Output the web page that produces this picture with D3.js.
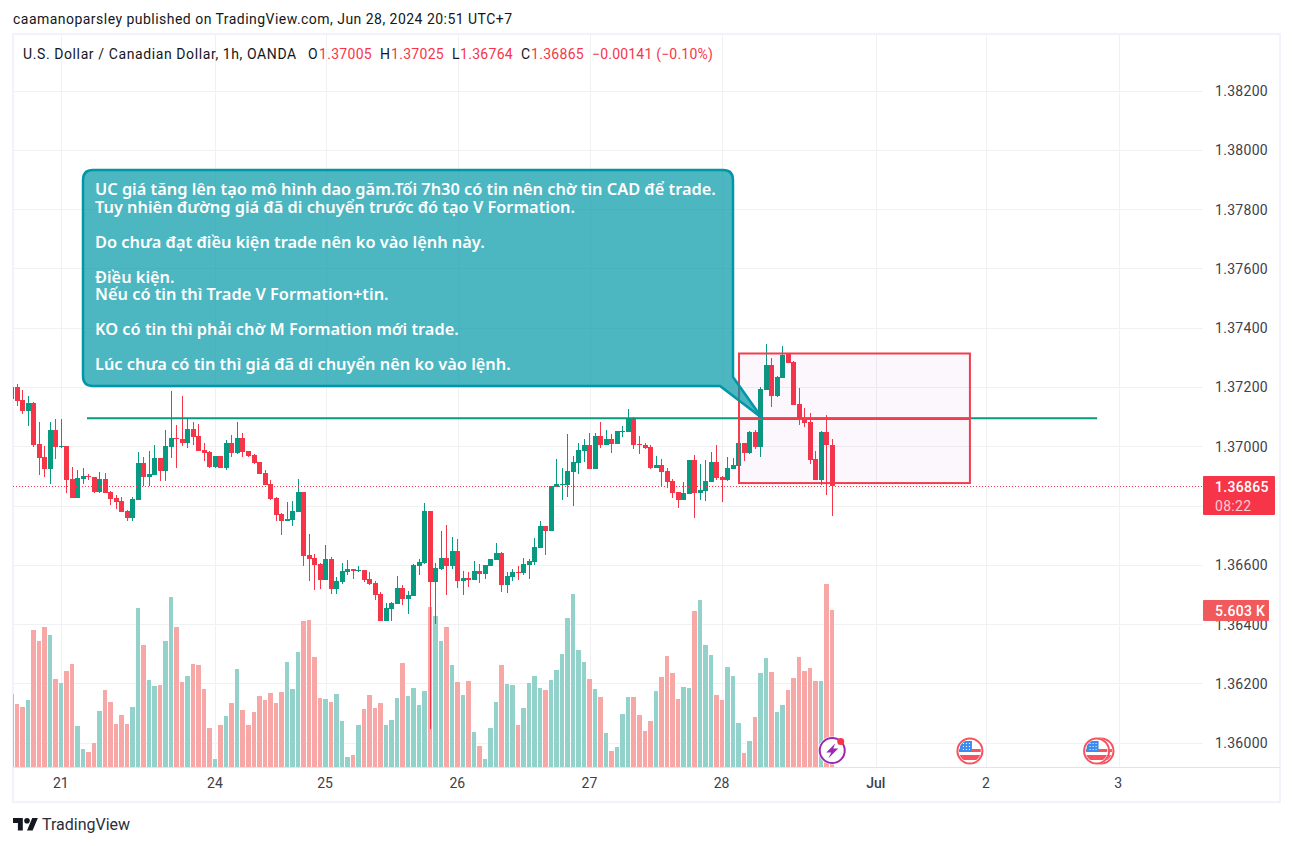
<!DOCTYPE html>
<html>
<head>
<meta charset="utf-8">
<script src="https://d3js.org/d3.v7.min.js"></script>
<style>
  body { margin: 0; background: #fff; }
  text { font-family: Roboto, sans-serif; }
  .tick text { font-family: Roboto, sans-serif; }
</style>
</head>
<body>
<div id="chart"></div>
<script>
// values, one entry per 1h bar (first one is cut by the left edge)
var opens = [
  1.37160,
  1.37200,1.37156,1.37119,1.37146,1.37008,1.36964,1.36923,1.37055,1.36997,1.37001,
  1.36890,1.36826,1.36890,1.36901,1.36897,1.36846,1.36890,1.36846,1.36826,1.36815,
  1.36782,1.36758,1.36819,1.36944,1.36897,1.36903,1.36961,1.36917,1.36998,1.37028,
  1.37025,1.37011,1.37059,1.37035,1.36988,1.36981,1.36930,1.36967,1.36927,1.37011,
  1.36978,1.37028,1.36984,1.36971,1.36947,1.36910,1.36873,1.36826,1.36772,1.36748,
  1.36750,1.36778,1.36845,1.36632,1.36622,1.36602,1.36548,1.36619,1.36518,1.36541,
  1.36575,1.36585,1.36578,1.36582,1.36551,1.36538,1.36501,1.36410,1.36450,1.36467,
  1.36521,1.36484,1.36494,1.36595,1.36605,1.36781,1.36541,1.36585,1.36622,1.36595,
  1.36646,1.36545,1.36555,1.36548,1.36578,1.36568,1.36595,1.36616,1.36639,1.36531,
  1.36558,1.36575,1.36572,1.36599,1.36609,1.36656,1.36730,1.36713,1.36863,1.36870,
  1.36870,1.36913,1.36944,1.36984,1.37004,1.36924,1.37035,1.37004,1.37025,1.37008,
  1.37048,1.37048,1.37092,1.37008,1.37004,1.36998,1.36927,1.36937,1.36917,1.36883,
  1.36846,1.36819,1.36839,1.36954,1.36843,1.36849,1.36880,1.36947,1.36897,1.36886,
  1.36923,1.36934,1.37011,1.36978,1.37048,1.36998,1.37190,1.37274,1.37170,1.37231,
  1.37312,1.37285,1.37143,1.37096,1.37082,1.36957,1.36886,1.37048,1.37005
];
var highs = [
  1.37205,
  1.37209,1.37190,1.37170,1.37150,1.37082,1.37001,1.37082,1.37091,1.37092,1.37001,
  1.36930,1.36920,1.36927,1.36907,1.36897,1.36913,1.36910,1.36849,1.36836,1.36829,
  1.36785,1.36829,1.36981,1.36964,1.36984,1.37005,1.36961,1.37055,1.37187,1.37072,
  1.37170,1.37092,1.37082,1.37075,1.37011,1.36984,1.36967,1.36967,1.37021,1.37038,
  1.37082,1.37045,1.36984,1.36974,1.36947,1.36920,1.36886,1.36829,1.36775,1.36812,
  1.36815,1.36889,1.36845,1.36703,1.36636,1.36605,1.36666,1.36626,1.36558,1.36605,
  1.36616,1.36585,1.36595,1.36582,1.36575,1.36545,1.36508,1.36470,1.36474,1.36562,
  1.36531,1.36511,1.36602,1.36619,1.36808,1.36781,1.36605,1.36713,1.36734,1.36693,
  1.36686,1.36578,1.36575,1.36612,1.36602,1.36599,1.36619,1.36673,1.36642,1.36575,
  1.36585,1.36595,1.36622,1.36619,1.36690,1.36747,1.36730,1.36865,1.36957,1.36927,
  1.37042,1.36967,1.37010,1.37025,1.37045,1.37045,1.37082,1.37055,1.37042,1.37052,
  1.37069,1.37126,1.37099,1.37035,1.37011,1.37004,1.36967,1.36957,1.36927,1.36890,
  1.36846,1.36880,1.36954,1.36971,1.36940,1.36954,1.36981,1.37004,1.36900,1.36964,
  1.36961,1.37011,1.37011,1.37050,1.37055,1.37200,1.37345,1.37298,1.37237,1.37339,
  1.37312,1.37288,1.37197,1.37129,1.37112,1.36984,1.37052,1.37106,1.37025
];
var lows = [
  1.37150,
  1.37136,1.37109,1.37069,1.36998,1.36903,1.36897,1.36873,1.36957,1.36994,1.36842,
  1.36826,1.36826,1.36873,1.36886,1.36842,1.36842,1.36842,1.36802,1.36788,1.36778,
  1.36748,1.36748,1.36819,1.36866,1.36866,1.36903,1.36883,1.36883,1.36961,1.36927,
  1.37001,1.36994,1.37005,1.36984,1.36950,1.36927,1.36927,1.36927,1.36920,1.36964,
  1.36974,1.36964,1.36965,1.36940,1.36907,1.36869,1.36819,1.36748,1.36701,1.36748,
  1.36730,1.36778,1.36595,1.36545,1.36514,1.36518,1.36548,1.36501,1.36501,1.36535,
  1.36565,1.36551,1.36575,1.36541,1.36531,1.36480,1.36410,1.36410,1.36410,1.36467,
  1.36464,1.36433,1.36494,1.36565,1.36602,1.36046,1.36400,1.36582,1.36497,1.36585,
  1.36521,1.36497,1.36524,1.36548,1.36538,1.36551,1.36595,1.36616,1.36508,1.36504,
  1.36545,1.36548,1.36565,1.36551,1.36599,1.36656,1.36632,1.36713,1.36863,1.36819,
  1.36828,1.36799,1.36907,1.36947,1.36924,1.36924,1.36994,1.37004,1.36978,1.37008,
  1.37032,1.37048,1.36991,1.36974,1.36990,1.36923,1.36927,1.36866,1.36859,1.36826,
  1.36792,1.36819,1.36839,1.36758,1.36819,1.36815,1.36880,1.36886,1.36812,1.36883,
  1.36923,1.36934,1.36950,1.36974,1.36991,1.36964,1.37190,1.37133,1.37167,1.37231,
  1.37281,1.37140,1.37072,1.37065,1.36940,1.36886,1.36870,1.36836,1.36764
];
var closes = [
  1.37200,
  1.37153,1.37119,1.37146,1.37005,1.36961,1.36923,1.37055,1.36998,1.37001,1.36886,
  1.36826,1.36893,1.36900,1.36898,1.36846,1.36890,1.36842,1.36822,1.36812,1.36778,
  1.36758,1.36822,1.36944,1.36897,1.36907,1.36961,1.36917,1.37001,1.37028,1.37025,
  1.37011,1.37059,1.37032,1.36984,1.36978,1.36930,1.36967,1.36927,1.37011,1.36978,
  1.37028,1.36981,1.36967,1.36944,1.36907,1.36869,1.36822,1.36768,1.36748,1.36755,
  1.36781,1.36845,1.36629,1.36619,1.36599,1.36548,1.36619,1.36518,1.36545,1.36578,
  1.36585,1.36578,1.36582,1.36548,1.36535,1.36497,1.36410,1.36454,1.36470,1.36521,
  1.36484,1.36497,1.36599,1.36609,1.36781,1.36541,1.36589,1.36622,1.36595,1.36646,
  1.36545,1.36555,1.36548,1.36578,1.36568,1.36599,1.36619,1.36639,1.36531,1.36562,
  1.36575,1.36572,1.36602,1.36612,1.36659,1.36730,1.36713,1.36865,1.36873,1.36873,
  1.36917,1.36947,1.36988,1.37004,1.36924,1.37035,1.37004,1.37025,1.37008,1.37052,
  1.37052,1.37096,1.37004,1.37004,1.36994,1.36927,1.36937,1.36913,1.36880,1.36843,
  1.36819,1.36843,1.36954,1.36843,1.36853,1.36883,1.36947,1.36893,1.36886,1.36927,
  1.36937,1.37011,1.36978,1.37048,1.36998,1.37194,1.37274,1.37170,1.37234,1.37308,
  1.37281,1.37140,1.37096,1.37079,1.36954,1.36886,1.37048,1.37005,1.36865
];
var volumes = [
  2606,
  2249,2142,2392,4891,4498,4998,4712,3142,2999,3427,
  3677,1464,643,536,857,1999,2749,2321,1535,1856,
  1535,2142,5676,4355,3106,2892,2927,4498,6069,4998,
  3035,3249,3677,3641,2785,1392,286,1499,1821,2285,
  3499,2035,1499,1964,2535,2392,2642,2285,2678,3749,
  2785,4106,5212,5248,3927,2463,2428,2321,2606,1642,
  357,428,1499,2071,2570,2106,2285,1499,1678,2463,
  3713,2535,2820,2213,2713,5712,5391,4498,4998,3641,
  3035,2570,3070,1250,750,286,1392,2321,3641,2963,
  2927,1499,2106,2999,3249,2820,2749,3106,3463,4034,
  5319,6176,4177,3749,3142,2785,2499,1214,571,714,
  1892,2499,2499,1856,1285,1642,2713,3213,3963,3356,
  2428,2856,2820,5569,5962,4355,3998,2570,2392,3570,
  3249,1571,500,928,1785,3356,3891,3392,1964,2213,
  2749,3177,3927,3427,3534,3070,3070,6533,5603
];

var priceTicks = [1.36,1.362,1.364,1.366,1.368,1.37,1.372,1.374,1.376,1.378,1.38,1.382];
var dayTickBars = [9,37,57,81,105,129,157,177,201];
var dayTickLabels = ["21","24","25","26","27","28","Jul","2","3"];

var legendName = "U.S. Dollar / Canadian Dollar, 1h, OANDA";
var legendParts = [
  ["O", "1.37005", 308, 319],
  ["H", "1.37025", 380, 391],
  ["L", "1.36764", 452, 460],
  ["C", "1.36865", 521, 531]
];
var legendChange = "\u22120.00141 (\u22120.10%)";

var calloutLines = [
  "UC giá tăng lên tạo mô hình dao găm.Tối 7h30 có tin nên chờ tin CAD để trade.",
  "Tuy nhiên đường giá đã di chuyển trước đó tạo V Formation.",
  "",
  "Do chưa đạt điều kiện trade nên ko vào lệnh này.",
  "",
  "Điều kiện.",
  "Nếu có tin thì Trade V Formation+tin.",
  "",
  "KO có tin thì phải chờ M Formation mới trade.",
  "",
  "Lúc chưa có tin thì giá đã di chuyển nên ko vào lệnh."
];
var calloutLineY = [189,207,0,242,0,277,294,0,329,0,364];

// drawn shapes: bar index / price anchors
var boxBars = [132.07, 174];
var boxPrices = [1.37313, 1.36876, 1.37093];
var levelBars = [13.67, 197.1];
var levelPrice = 1.37095;
var flagBars = [174, 197, 197.8];
var boltBar = 149;

var upColor = "#089981", downColor = "#f73549";
var upVol = "#92d2cb", downVol = "#f7a8a6";
var gridColor = "#f1f1f4";

var width = 1293, height = 846;
var pane = {left: 13, right: 1203, top: 35, bottom: 767};

var svg = d3.select("#chart").append("svg")
  .attr("width", width)
  .attr("height", height)
  .style("display", "block");

svg.append("defs").append("clipPath").attr("id", "pane-clip")
  .append("rect")
  .attr("x", pane.left).attr("y", pane.top)
  .attr("width", pane.right - pane.left).attr("height", pane.bottom - pane.top);

var x = d3.scaleLinear().domain([0, 210]).range([11.7, 11.7 + 210 * 5.507]);
var y = d3.scaleLinear().domain([1.36, 1.382]).range([742.8, 90.5]);
var v = d3.scaleLinear().domain([0, 5603]).range([767, 610]);

var bars = opens.map(function(o, i) {
  return {i: i, o: o, h: highs[i], l: lows[i], c: closes[i], vol: volumes[i]};
});

function bodyLeft(i) { return Math.round(x(i) - 2.5); }

// header line
svg.append("text")
  .attr("x", 13).attr("y", 24)
  .style("font-size", "14px").style("letter-spacing", "0.47px").style("fill", "#131722")
  .text("caamanoparsley published on TradingView.com, Jun 28, 2024 20:51 UTC+7");

// frame
svg.append("rect")
  .attr("x", 13).attr("y", 34)
  .attr("width", 1267).attr("height", 768)
  .attr("fill", "none").attr("stroke", "#f0f3fa").attr("stroke-width", 2);

// grid
var grid = svg.append("g");
grid.selectAll("line.h").data(priceTicks).enter().append("line")
  .attr("class", "h")
  .attr("x1", pane.left).attr("x2", pane.right)
  .attr("y1", function(d) { return Math.round(y(d)) + 0.5; })
  .attr("y2", function(d) { return Math.round(y(d)) + 0.5; })
  .attr("stroke", gridColor);
grid.selectAll("line.v").data(dayTickBars).enter().append("line")
  .attr("class", "v")
  .attr("x1", function(d) { return Math.round(x(d)) + 0.5; })
  .attr("x2", function(d) { return Math.round(x(d)) + 0.5; })
  .attr("y1", pane.top).attr("y2", pane.bottom)
  .attr("stroke", gridColor);

var plot = svg.append("g").attr("clip-path", "url(#pane-clip)");

// volume
plot.selectAll("rect.vol").data(bars).enter().append("rect")
  .attr("class", "vol")
  .attr("x", function(d) { return bodyLeft(d.i); })
  .attr("width", function(d) { return bodyLeft(d.i + 1) - bodyLeft(d.i) - 1; })
  .attr("y", function(d) { return Math.round(v(d.vol)); })
  .attr("height", function(d) { return 767 - Math.round(v(d.vol)); })
  .attr("fill", function(d) { return d.c >= d.o ? upVol : downVol; });

// wicks and bodies
plot.selectAll("rect.wick").data(bars).enter().append("rect")
  .attr("class", "wick")
  .attr("x", function(d) { return bodyLeft(d.i) + 2; })
  .attr("width", 1)
  .attr("y", function(d) { return Math.round(y(d.h)); })
  .attr("height", function(d) { return Math.max(1, Math.round(y(d.l)) - Math.round(y(d.h))); })
  .attr("fill", function(d) { return d.c >= d.o ? upColor : downColor; });

plot.selectAll("rect.body").data(bars).enter().append("rect")
  .attr("class", "body")
  .attr("x", function(d) { return bodyLeft(d.i); })
  .attr("width", 5)
  .attr("y", function(d) { return Math.round(y(Math.max(d.o, d.c))); })
  .attr("height", function(d) { return Math.max(1, Math.round(y(Math.min(d.o, d.c))) - Math.round(y(Math.max(d.o, d.c)))); })
  .attr("fill", function(d) { return d.c >= d.o ? upColor : downColor; });

// last price dotted line
var lastClose = closes[closes.length - 1];
plot.append("line")
  .attr("x1", pane.left).attr("x2", pane.right)
  .attr("y1", Math.round(y(lastClose)) + 0.5).attr("y2", Math.round(y(lastClose)) + 0.5)
  .attr("stroke", downColor)
  .attr("stroke-dasharray", "1 2");

// level line
plot.append("line")
  .attr("x1", x(levelBars[0])).attr("x2", x(levelBars[1]))
  .attr("y1", y(levelPrice)).attr("y2", y(levelPrice))
  .attr("stroke", upColor).attr("stroke-width", 2);

// range box
plot.append("rect")
  .attr("x", x(boxBars[0])).attr("y", y(boxPrices[0]))
  .attr("width", x(boxBars[1]) - x(boxBars[0]))
  .attr("height", y(boxPrices[1]) - y(boxPrices[0]))
  .attr("fill", "#9c27b0").attr("fill-opacity", 0.04)
  .attr("stroke", "none");
plot.append("rect")
  .attr("x", x(boxBars[0])).attr("y", y(boxPrices[0]))
  .attr("width", x(boxBars[1]) - x(boxBars[0]))
  .attr("height", y(boxPrices[1]) - y(boxPrices[0]))
  .attr("fill", "none")
  .attr("stroke", "#f23d4f").attr("stroke-width", 2);
plot.append("line")
  .attr("x1", x(boxBars[0])).attr("x2", x(boxBars[1]))
  .attr("y1", y(boxPrices[2])).attr("y2", y(boxPrices[2]))
  .attr("stroke", "#f23d4f").attr("stroke-width", 2.5);

// callout
var calloutPath = "M93,170 H723 Q733,170 733,180 V377 L762,418 L720,386 H93 Q83,386 83,376 V180 Q83,170 93,170 Z";
plot.append("path")
  .attr("d", calloutPath)
  .attr("fill", "#0097a7").attr("fill-opacity", 0.7)
  .attr("stroke", "#0097a7").attr("stroke-width", 2.5)
  .attr("stroke-linejoin", "round");

plot.selectAll("text.note").data(calloutLines).enter().append("text")
  .attr("class", "note")
  .attr("x", 95)
  .attr("y", function(d, i) { return calloutLineY[i] + 6; })
  .style("font-family", "'Noto Sans', sans-serif")
  .style("font-size", "16.35px")
  .style("font-weight", 600)
  .style("fill", "#fff")
  .text(function(d) { return d; });

// event icons
svg.select("defs").append("clipPath").attr("id", "flag-clip")
  .append("circle").attr("r", 11);

function drawFlag(cx) {
  var g = plot.append("g").attr("transform", "translate(" + cx + ",751)");
  g.append("circle").attr("r", 13.5).attr("fill", "#fff");
  var f = g.append("g").attr("clip-path", "url(#flag-clip)");
  f.append("rect").attr("x", -11).attr("y", -2).attr("width", 22).attr("height", 3).attr("fill", "#f7525f");
  f.append("rect").attr("x", -11).attr("y", 4).attr("width", 22).attr("height", 5).attr("fill", "#f7525f");
  f.append("rect").attr("x", -10).attr("y", -10).attr("width", 12).attr("height", 11).attr("fill", "#3c8cf0");
  d3.range(-7, 1, 3).forEach(function(dx) {
    d3.range(-8, 0, 3).forEach(function(dy) {
      f.append("rect").attr("x", dx).attr("y", dy).attr("width", 1).attr("height", 1).attr("fill", "#fff");
    });
  });
  g.append("circle").attr("r", 12.5).attr("fill", "none").attr("stroke", "#f7525f").attr("stroke-width", 2);
}
flagBars.slice().reverse().forEach(function(b) { drawFlag(x(b)); });

var bolt = plot.append("g").attr("transform", "translate(" + x(boltBar) + ",750.5)");
bolt.append("circle").attr("r", 14).attr("fill", "#fff");
bolt.append("circle").attr("r", 12.5).attr("fill", "none").attr("stroke", "#9c27b0").attr("stroke-width", 2);
bolt.append("path").attr("d", "M3,-7 L-6,2 L-1,2 L-4,8 L6,-2 L1,-2 Z").attr("fill", "#9c27b0");
bolt.append("circle").attr("cx", 8.5).attr("cy", -9).attr("r", 3.5).attr("fill", "#f73549");

// axes
var priceAxis = d3.axisRight(y)
  .tickValues(priceTicks)
  .tickSize(0)
  .tickPadding(0)
  .tickFormat(d3.format(".5f"));
var priceAxisG = svg.append("g")
  .attr("transform", "translate(1215,0.5)")
  .call(priceAxis);
priceAxisG.select(".domain").remove();
priceAxisG.selectAll("text").style("font-size", "14px").style("letter-spacing", "0.3px").style("fill", "#3c404c");

var timeAxis = d3.axisBottom(x)
  .tickValues(dayTickBars)
  .tickSize(0)
  .tickPadding(0)
  .tickFormat(function(d, i) { return dayTickLabels[i]; });
var timeAxisG = svg.append("g")
  .attr("transform", "translate(-1,778)")
  .call(timeAxis);
timeAxisG.select(".domain").remove();
timeAxisG.selectAll("text").style("font-size", "14px").style("fill", "#3c404c")
  .style("font-weight", function(d, i) { return dayTickLabels[i] === "Jul" ? 500 : 400; });

svg.append("line")
  .attr("x1", pane.left).attr("x2", 1280)
  .attr("y1", 767.5).attr("y2", 767.5)
  .attr("stroke", "#e0e3eb");

// price tags
svg.append("rect")
  .attr("x", 1203).attr("y", 600).attr("width", 66).attr("height", 21).attr("rx", 1)
  .attr("fill", "#f05a5c");
svg.append("text")
  .attr("x", 1215).attr("y", 616)
  .style("font-size", "14px").style("font-weight", 500).style("letter-spacing", "0.3px").style("fill", "#fff")
  .text("5.603 K");
svg.append("rect")
  .attr("x", 1203).attr("y", 476).attr("width", 72).attr("height", 39).attr("rx", 1)
  .attr("fill", "#f73549");
svg.append("text")
  .attr("x", 1215).attr("y", 491.5)
  .style("font-size", "14px").style("font-weight", 500).style("letter-spacing", "0.3px").style("fill", "#fff")
  .text(d3.format(".5f")(lastClose));
svg.append("text")
  .attr("x", 1215).attr("y", 510.5)
  .style("font-size", "14px").style("letter-spacing", "0.3px").style("fill", "#fff").style("fill-opacity", 0.75)
  .text("08:22");

// legend
var legend = svg.append("g").style("font-size", "14px");
legend.append("text").attr("x", 23).attr("y", 59).style("letter-spacing", "0.6px").style("fill", "#131722").text(legendName);
legendParts.forEach(function(p) {
  legend.append("text").attr("x", p[2]).attr("y", 59).style("fill", "#131722").text(p[0]);
  legend.append("text").attr("x", p[3]).attr("y", 59).style("letter-spacing", "0.3px").style("fill", downColor).text(p[1]);
});
legend.append("text").attr("x", 592).attr("y", 59).style("letter-spacing", "0.2px").style("fill", downColor).text(legendChange);

// logo
var logo = svg.append("g").attr("transform", "translate(13,815.2) scale(0.7)").attr("fill", "#131722");
logo.append("path").attr("d", "M14 22H7V11H0V4h14v18zM28 22h-8l7.5-18h8L28 22z");
logo.append("circle").attr("cx", 20).attr("cy", 8).attr("r", 4);
svg.append("text")
  .attr("x", 42).attr("y", 830)
  .style("font-size", "16px").style("fill", "#2a2e39")
  .text("TradingView");
</script>
</body>
</html>
